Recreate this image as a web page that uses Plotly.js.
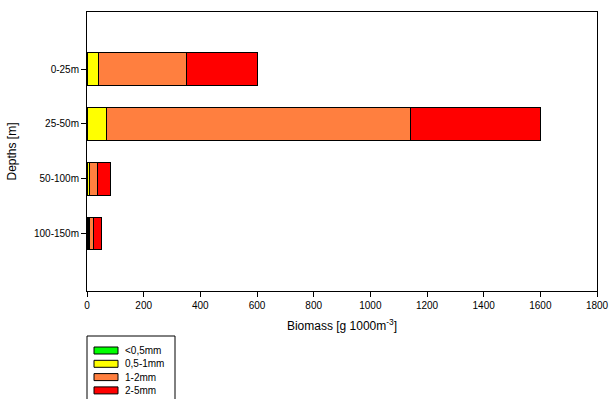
<!DOCTYPE html>
<html>
<head>
<meta charset="utf-8">
<script src="https://cdn.plot.ly/plotly-3.0.1.min.js"></script>
<style>
  html, body { margin: 0; padding: 0; background: #fff; }
  #chart { width: 610px; height: 399px; }
</style>
</head>
<body>
<div id="chart"></div>
<script>
// Depth layers (top to bottom)
const depths = ["0-25m", "25-50m", "50-100m", "100-150m"];

// Biomass per size class, g 1000m^-3
const sizeClasses = ["<0,5mm", "0,5-1mm", "1-2mm", "2-5mm"];
const under05mm = [2, 2, 3, 5];
const from05to1mm = [38, 68, 5, 3];
const from1to2mm = [310, 1070, 30, 14];
const from2to5mm = [250, 460, 46, 30];
const seriesValues = [under05mm, from05to1mm, from1to2mm, from2to5mm];
const classColors = ["#00ff00", "#ffff00", "#ff7f3f", "#ff0000"];

const xTicks = [0, 200, 400, 600, 800, 1000, 1200, 1400, 1600, 1800];

const font = "Liberation Sans, Arial, sans-serif";

const traces = sizeClasses.map((name, i) => ({
  type: "bar",
  orientation: "h",
  name: name,
  y: depths,
  x: seriesValues[i],
  marker: { color: classColors[i], line: { color: "#000", width: 1 } },
  hoverinfo: "x+y+name"
}));

// Plot area geometry in pixels, used to place the hand-drawn legend
const W = 610, H = 399;
const mL = 87, mR = 13, mT = 12, mB = 108;
const plotW = W - mL - mR, plotH = H - mT - mB;
const px = x => (x - mL) / plotW;
const py = y => (H - mB - y) / plotH;

const shapes = [];
const annotations = [];
// legend frame
shapes.push({
  type: "rect", xref: "paper", yref: "paper",
  x0: px(87), x1: px(175), y0: py(336), y1: py(404),
  line: { color: "#000", width: 1 }, fillcolor: "rgba(0,0,0,0)"
});
sizeClasses.forEach((name, i) => {
  const cy = 350.5 + i * 13.3;
  shapes.push({
    type: "rect", xref: "paper", yref: "paper",
    x0: px(94), x1: px(118), y0: py(cy - 3.5), y1: py(cy + 3.5),
    line: { color: "#000", width: 1 }, fillcolor: classColors[i]
  });
  annotations.push({
    xref: "paper", yref: "paper", x: px(123), y: py(cy),
    xanchor: "left", yanchor: "middle", showarrow: false,
    text: name, font: { family: font, size: 10, color: "#000" }
  });
});

const layout = {
  width: W, height: H,
  margin: { l: mL, r: mR, t: mT, b: mB, pad: 0 },
  paper_bgcolor: "#fff", plot_bgcolor: "#fff",
  barmode: "stack",
  bargap: 0.4,
  showlegend: false,
  font: { family: font, size: 10, color: "#000" },
  xaxis: {
    range: [0, 1800],
    tickvals: xTicks,
    ticktext: xTicks.map(String),
    ticks: "outside", ticklen: 5, tickcolor: "#000", tickwidth: 1,
    showline: true, linecolor: "#000", linewidth: 1, mirror: true,
    showgrid: false, zeroline: false,
    tickfont: { family: font, size: 10, color: "#000" },
    title: { text: "Biomass [g 1000m<sup>-3</sup>]", font: { family: font, size: 12, color: "#000" }, standoff: 11 }
  },
  yaxis: {
    type: "category",
    categoryorder: "array", categoryarray: depths,
    range: [4.05, -1.04],
    ticks: "outside", ticklen: 5, tickcolor: "#000", tickwidth: 1,
    showline: true, linecolor: "#000", linewidth: 1, mirror: true,
    showgrid: false, zeroline: false,
    tickfont: { family: font, size: 10, color: "#000" },
    title: { text: "Depths [m]", font: { family: font, size: 12, color: "#000" }, standoff: 14 }
  },
  shapes: shapes,
  annotations: annotations
};

Plotly.newPlot("chart", traces, layout, { displayModeBar: false, staticPlot: true });
</script>
</body>
</html>
